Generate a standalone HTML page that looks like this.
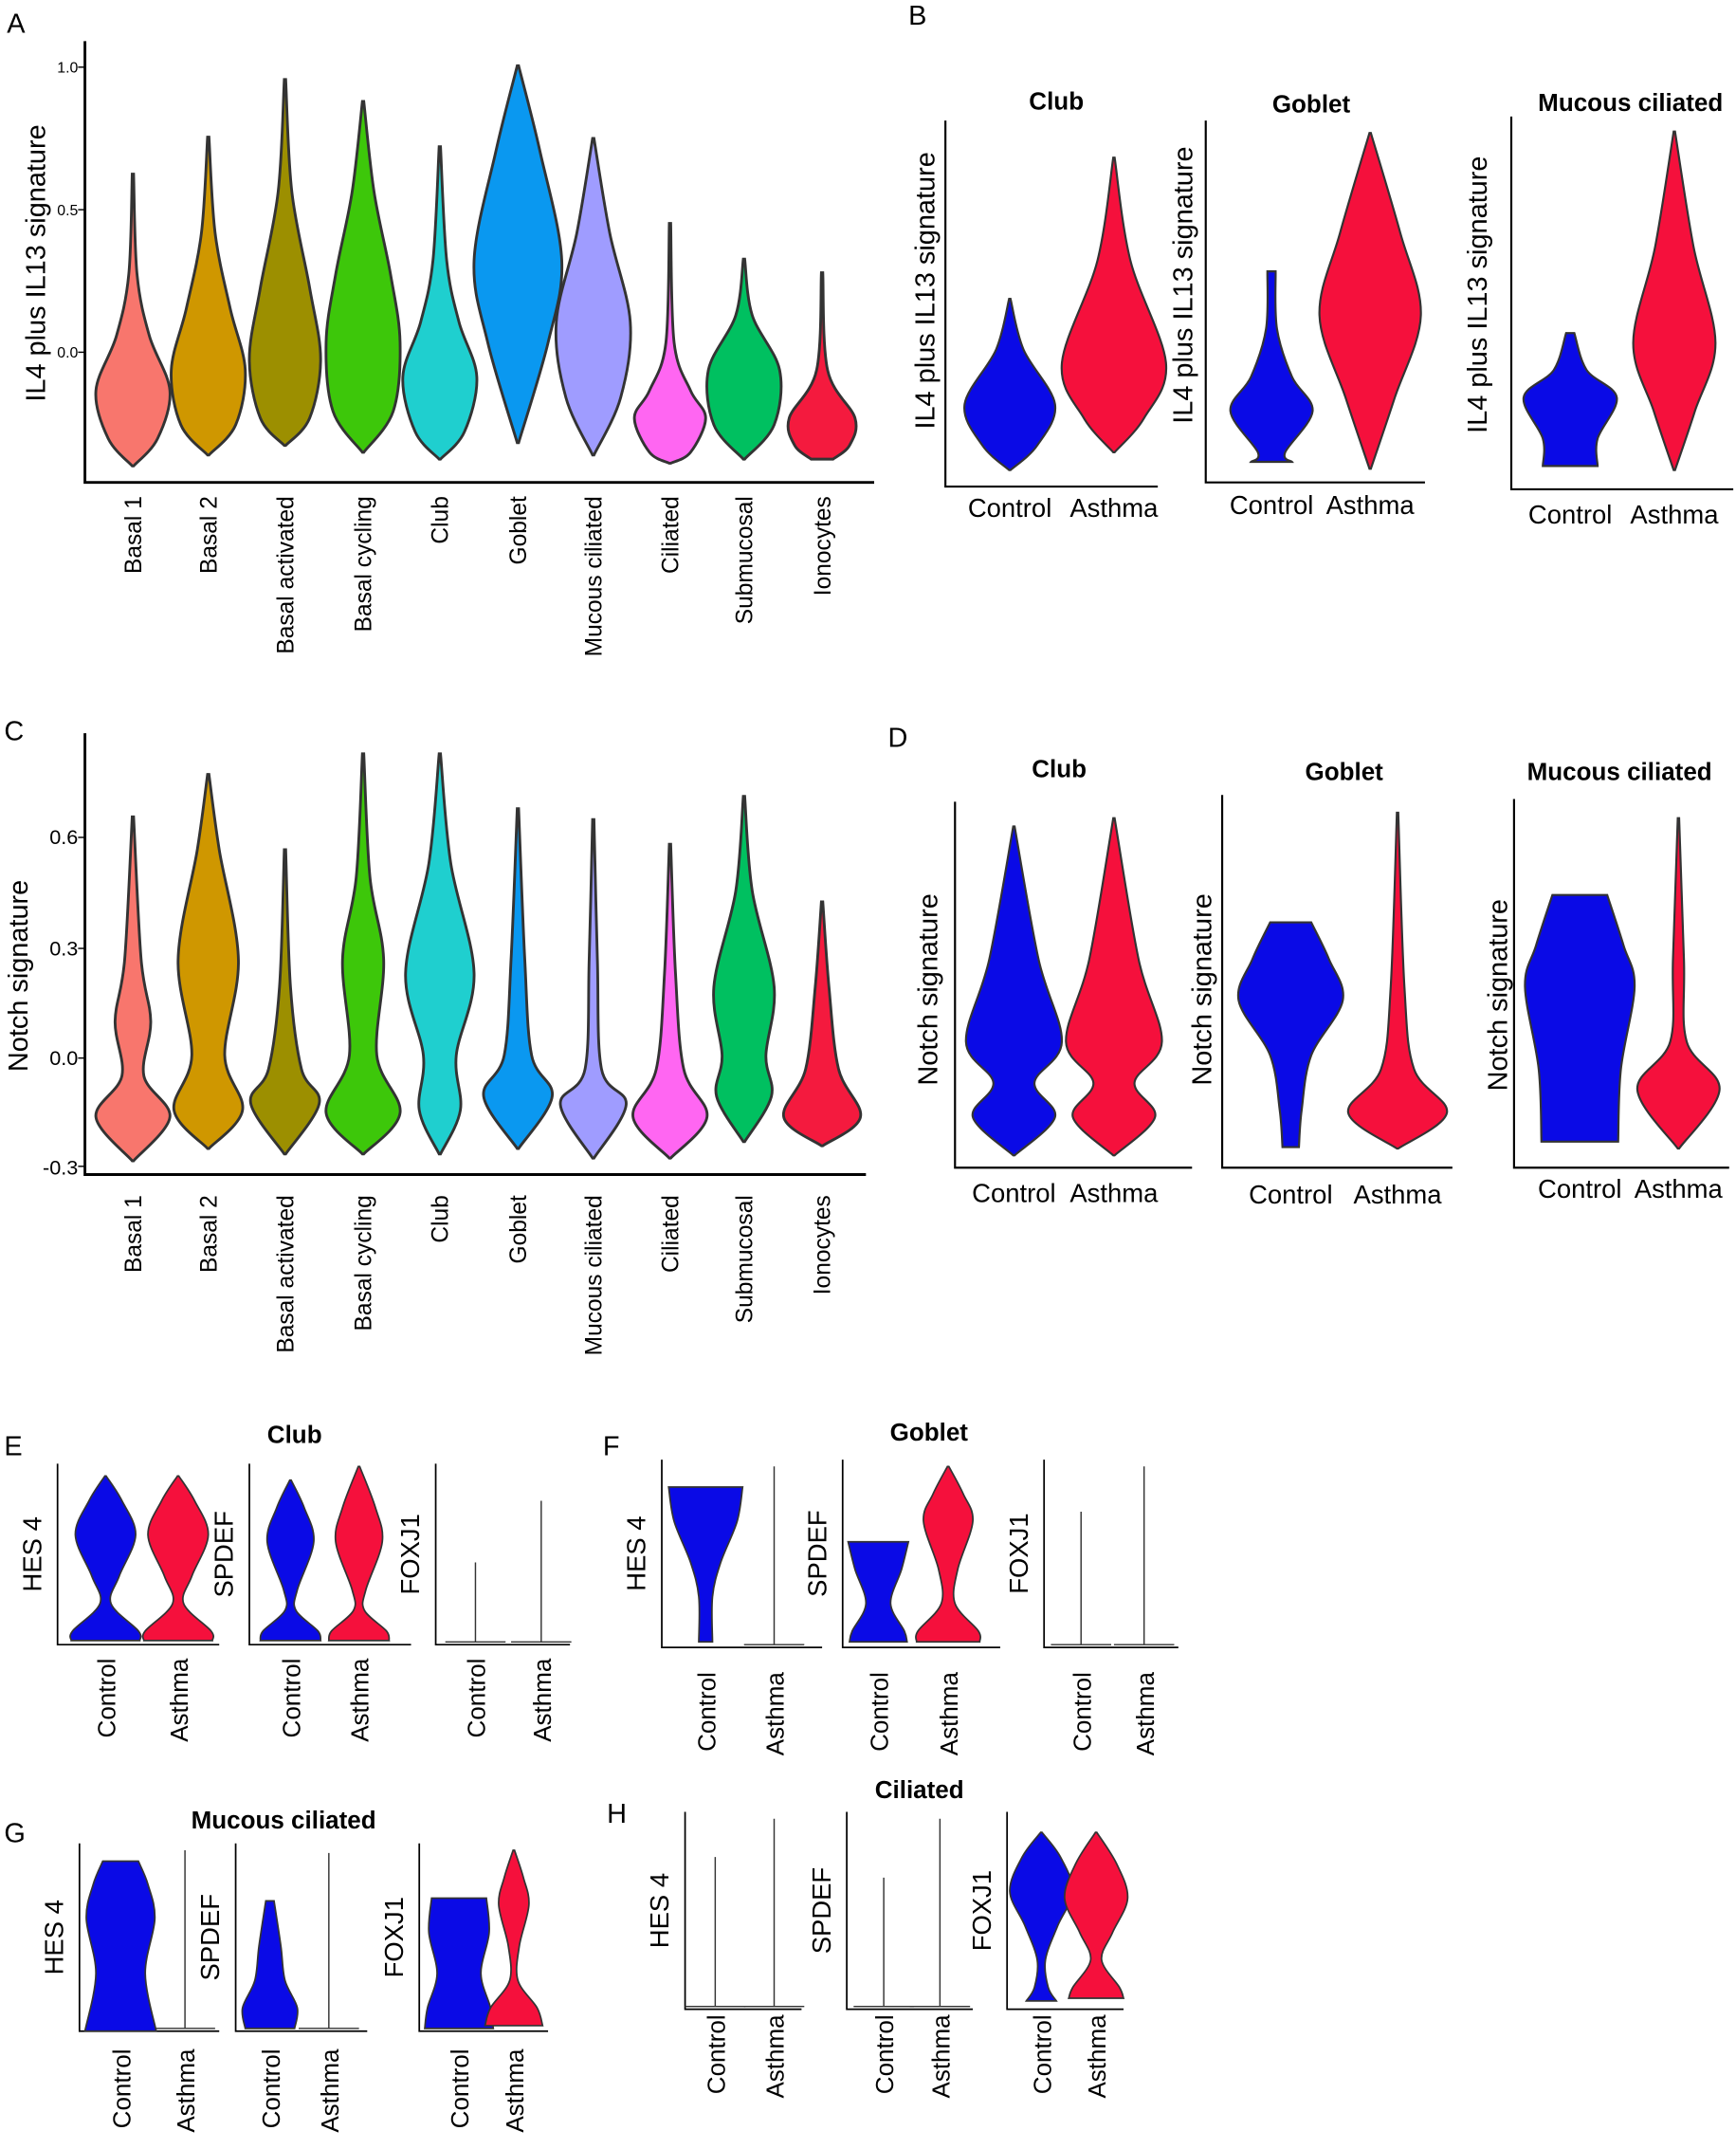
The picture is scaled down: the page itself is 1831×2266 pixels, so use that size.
<!DOCTYPE html>
<html><head><meta charset="utf-8"><style>
body{margin:0;background:#fff}
svg{display:block}
text{font-family:"Liberation Sans",sans-serif;fill:#000}
</style></head><body>
<svg id="s" width="1831" height="2266" viewBox="0 0 1267 1568" xmlns="http://www.w3.org/2000/svg">
<g id="g"></g>
</svg>
<script>
const g=document.getElementById('g');let h='';
function cr(p){let d='M'+p[0][0]+','+p[0][1];for(let i=0;i<p.length-1;i++){const p0=p[i-1]||p[i],p1=p[i],p2=p[i+1],p3=p[i+2]||p2;
d+=' C'+(p1[0]+(p2[0]-p0[0])/6)+','+(p1[1]+(p2[1]-p0[1])/6)+' '+(p2[0]-(p3[0]-p1[0])/6)+','+(p2[1]-(p3[1]-p1[1])/6)+' '+p2[0]+','+p2[1];}return d;}
function v(cx,pts,col,sw){const r=pts.map(p=>[cx+p[1],p[0]]);const l=pts.slice().reverse().map(p=>[cx-p[1],p[0]]);
h+='<path d="'+cr(r)+' L'+cr(l).slice(1)+' Z" fill="'+col+'" stroke="#333" stroke-width="'+(sw||2)+'"/>';}
function ln(cx,top,bot){h+='<line x1="'+cx+'" y1="'+top+'" x2="'+cx+'" y2="'+bot+'" stroke="#333" stroke-width="1"/><line x1="'+(cx-22)+'" y1="'+bot+'" x2="'+(cx+22)+'" y2="'+bot+'" stroke="#333" stroke-width="1"/>';}
function ax(x,y0,y1,x1,ticks,w){w=w||2;h+='<path d="M'+x+','+y0+' V'+y1+' H'+x1+'" fill="none" stroke="#000" stroke-width="'+w+'"/>';(ticks||[]).forEach(t=>{h+='<line x1="'+(x-5)+'" x2="'+x+'" y1="'+t+'" y2="'+t+'" stroke="#000" stroke-width="1"/>';});}
function t(x,y,s,fs,o){o=o||{};h+='<text x="'+x+'" y="'+y+'" font-size="'+fs+'"'+(o.a?' text-anchor="'+o.a+'"':'')+(o.b?' font-weight="bold"':'')+(o.r?' transform="rotate(-90 '+x+' '+y+')"':'')+'>'+s+'</text>';}
const B='#0a0ae6',R='#f5103c';
[['A',5,24],['B',663,18],['C',3,540],['D',648,545],['E',3,1062],['F',440,1062],['G',3,1344],['H',443,1330]].forEach(a=>t(a[1],a[2],a[0],20));
ax(62,30,352,638,[49,153,257]);
t(57,53,'1.0',11,{a:'end'});t(57,157,'0.5',11,{a:'end'});t(57,261,'0.0',11,{a:'end'});
t(33,192,'IL4 plus IL13 signature',20,{a:'middle',r:1});
const cats=['Basal 1','Basal 2','Basal activated','Basal cycling','Club','Goblet','Mucous ciliated','Ciliated','Submucosal','Ionocytes'];
const xs=[97,152,208,265,321,378,433,489,543,600];
const colA=['#f8766d','#cf9700','#9c8f00','#3dc70a','#1fcfcf','#0a98f0','#9f9cff','#ff66f2','#00c060','#f41a3e'];
const A=[[[127,.5],[200,3],[245,12],[285,27],[320,18],[340,.5]],
[[100,.5],[170,5],[225,16],[270,27],[310,20],[332,.5]],
[[58,.5],[140,5],[210,18],[262,26],[305,18],[325,.5]],
[[74,.5],[140,8],[200,20],[250,27],[300,22],[330,.5]],
[[107,.5],[190,5],[235,14],[275,27],[315,18],[335,.5]],
[[48,.5],[110,16],[190,32],[250,22],[323,.5]],
[[101,.5],[170,12],[235,27],[290,20],[332,.5]],
[[163,.5],[250,3],[285,15],[305,26],[330,15],[338,.5]],
[[189,.5],[230,6],[270,26],[310,22],[335,.5]],
[[199,.5],[270,4],[305,24],[325,20],[335,8]]];
A.forEach((p,i)=>{v(xs[i],p,colA[i]);t(xs[i]+6,362,cats[i],17,{a:'end',r:1});});
ax(62,535,857,632,[611,692,772,851]);
t(57,616,'0.6',15,{a:'end'});t(57,697,'0.3',15,{a:'end'});t(57,777,'0.0',15,{a:'end'});t(57,857,'-0.3',15,{a:'end'});
t(20,712,'Notch signature',20,{a:'middle',r:1});
const C=[[[596,.5],[700,6],[745,13],[785,8],[815,27],[847,.5]],
[[565,.5],[620,8],[700,22],[770,12],[810,25],[838,.5]],
[[620,.5],[720,4],[780,12],[805,25],[842,.5]],
[[550,.5],[640,5],[700,15],[770,10],[812,27],[842,.5]],
[[550,.5],[630,8],[710,25],[770,12],[810,15],[842,.5]],
[[590,.5],[700,5],[770,10],[800,25],[838,.5]],
[[598,.5],[700,3],[780,6],[806,24],[845,.5]],
[[616,.5],[710,4],[780,10],[815,27],[845,.5]],
[[581,.5],[650,6],[720,22],[770,16],[800,20],[833,.5]],
[[658,.5],[720,5],[780,12],[815,28],[836,.5]]];
C.forEach((p,i)=>{v(xs[i],p,colA[i]);t(xs[i]+6,872,cats[i],17,{a:'end',r:1});});
function sub(ax0,y0,y1,x1,c1,c2,title,tx,ty,ylab,lx,ly,xl,P1,P2,fs){ax(ax0,y0,y1,x1,[],1.5);t(tx,ty,title,18,{a:'middle',b:1});t(lx,ly,ylab,fs||20,{a:'middle',r:1});v(c1,P1,B,1.5);v(c2,P2,R,1.5);t(c1,xl,'Control',19,{a:'middle'});t(c2,xl,'Asthma',19,{a:'middle'});}
sub(690,88,355,845,737,813,'Club',771,80,'IL4 plus IL13 signature',682,212,377,
[[218,.5],[255,10],[295,33],[325,20],[343,.5]],[[115,.5],[190,12],[265,38],[305,22],[330,.5]]);
sub(880,88,352,1040,928,1000,'Goblet',957,82,'IL4 plus IL13 signature',870,208,375,
[[198,3],[240,4],[275,15],[300,30],[330,10],[337,15]],[[97,.5],[170,22],[230,37],[290,18],[342,.5]]);
sub(1103,85,357,1265,1146,1222,'Mucous ciliated',1190,81,'IL4 plus IL13 signature',1085,215,382,
[[243,3],[270,12],[290,34],[320,20],[340,20]],[[96,.5],[180,14],[250,30],[300,15],[343,.5]]);
sub(697,585,852,870,740,813,'Club',773,567,'Notch signature',684,722,877,
[[603,.5],[700,18],[760,35],[790,15],[815,30],[843,.5]],[[597,.5],[700,18],[760,35],[790,15],[815,30],[843,.5]]);
sub(892,580,852,1060,942,1020,'Goblet',981,569,'Notch signature',884,722,878,
[[673,15],[700,28],[730,38],[770,15],[810,8],[837,6]],[[593,.5],[720,5],[780,12],[812,36],[838,.5]]);
sub(1105,583,852,1262,1153,1225,'Mucous ciliated',1182,569,'Notch signature',1100,726,874,
[[653,20],[690,32],[720,40],[780,30],[833,28]],[[597,.5],[700,4],[760,6],[795,30],[838,.5]]);
function sm(x,y0,y1,x1,lab,c1,c2,P1,P2,xl,tk){ax(x,y0,y1,x1,tk||[],1.2);t(x-12,(y0+y1)/2,lab,19,{a:'middle',r:1});
[[c1,P1,B],[c2,P2,R]].forEach(q=>{if(typeof q[1]=='number')ln(q[0],q[1],y1-2);else v(q[0],q[1],q[2],1.2);});
t(c1+7,xl,'Control',18,{a:'end',r:1});t(c2+7,xl,'Asthma',18,{a:'end',r:1});}
t(215,1053,'Club',18,{a:'middle',b:1});
const hes=[[1077,.5],[1095,12],[1120,22],[1150,10],[1170,4],[1190,24],[1197,25]];
const sp=[[1080,.5],[1100,10],[1125,17],[1160,5],[1175,4],[1190,20],[1197,22]];
sm(42,1068,1200,160,'HES 4',77,130,hes,hes,1210);
sm(182,1068,1200,300,'SPDEF',212,262,sp,[[1070,.5],[1100,12],[1125,17],[1160,5],[1175,4],[1190,20],[1197,22]],1210);
sm(318,1068,1200,416,'FOXJ1',347,395,1140,1095,1210);
t(678,1051,'Goblet',18,{a:'middle',b:1});
sm(483,1065,1202,600,'HES 4',515,565,[[1085,27],[1110,23],[1140,11],[1165,5],[1198,5]],1070,1220);
sm(615,1065,1202,730,'SPDEF',641,692,[[1125,22],[1145,17],[1170,9],[1190,19],[1198,21]],[[1070,.5],[1090,11],[1110,18],[1145,7],[1170,5],[1190,22],[1198,23]],1220);
sm(762,1065,1202,860,'FOXJ1',789,835,1103,1070,1220);
t(207,1334,'Mucous ciliated',18,{a:'middle',b:1});
sm(58,1345,1482,160,'HES 4',88,135,[[1358,13],[1375,20],[1400,25],[1440,18],[1482,26]],1350,1495);
sm(172,1345,1482,268,'SPDEF',197,240,[[1387,3],[1420,8],[1445,11],[1465,20],[1480,18]],1352,1495);
sm(306,1345,1482,400,'FOXJ1',335,375,[[1385,20],[1410,22],[1440,16],[1465,23],[1480,25]],[[1350,.5],[1370,7],[1390,11],[1420,4],[1445,3],[1465,17],[1478,21]],1495);
t(671,1312,'Ciliated',18,{a:'middle',b:1});
sm(500,1322,1466,585,'HES 4',522,565,1355,1327,1470);
sm(618,1322,1466,710,'SPDEF',645,686,1370,1327,1470);
sm(735,1322,1466,820,'FOXJ1',760,800,[[1337,.5],[1355,14],[1380,23],[1405,12],[1430,3],[1450,5],[1460,11]],[[1337,.5],[1360,15],[1385,23],[1410,12],[1430,4],[1450,17],[1458,20]],1470);
g.innerHTML=h;
</script>
</body></html>
